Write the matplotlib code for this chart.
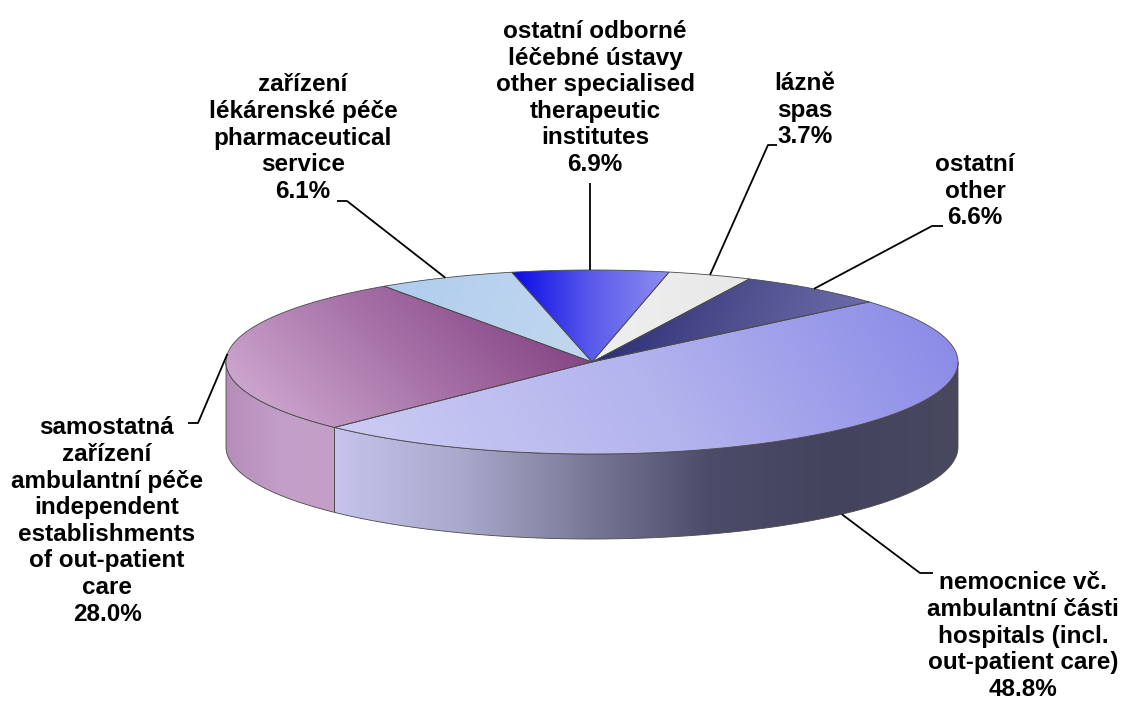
import numpy as np
import matplotlib.pyplot as plt
from matplotlib.patches import Polygon
from matplotlib.colors import LinearSegmentedColormap

plt.rcParams["font.family"] = ["Liberation Sans", "DejaVu Sans"]

# data (clockwise from the start angle)
names = [
    "nemocnice vč.\nambulantní části\nhospitals (incl.\nout-patient care)",
    "samostatná\nzařízení\nambulantní péče\nindependent\nestablishments\nof out-patient\ncare",
    "zařízení\nlékárenské péče\npharmaceutical\nservice",
    "ostatní odborné\nléčebné ústavy\nother specialised\ntherapeutic\ninstitutes",
    "lázně\nspas",
    "ostatní\nother",
]
shares = [48.8, 28.0, 6.1, 6.9, 3.7, 6.6]

# colour stops for the top faces and the gradient direction (pixel coords, y down)
top_colors = [
    ["#cbcbf3", "#b4b4ee", "#8c8ce8"],
    ["#cba4cd", "#a873a8", "#864686"],
    ["#b0cdee", "#c2d7ef"],
    ["#0a0ae6", "#5a5aec", "#8e8ef0"],
    ["#efefef", "#e8e8e8"],
    ["#2e2e78", "#50508f", "#6c6cab"],
]
top_dirs = [(1, -0.6), (1, -1), (1, 0.3), (1, 0), (1, 0), (1, 0.4)]
side_colors = [
    ["#c4c4ec", "#a9a9cc", "#7a7a98", "#4c4c6a", "#43435d", "#48485f"],
    ["#b58db9", "#c39ec8", "#c4a0c8"],
    ["#b0cdee", "#b0cdee"],
    ["#4040e0", "#4040e0"],
    ["#dddddd", "#dddddd"],
    ["#3a3a70", "#3a3a70"],
]

# layout
W, H = 1126, 701
cx, cy, rx, ry, depth = 592, 362, 366, 92, 85
start = 40.8
label_pos = [(1023, 636), (107, 521), (303, 138), (595, 98), (805, 110), (975, 191)]
elbows = [
    [(920, 573), (933, 573)],
    [(198, 423), (188, 423)],
    [(347, 201), (337, 201)],
    [(None, 183)],
    [(768, 145), (777, 145)],
    [(932, 226), (943, 226)],
]

fig = plt.figure(figsize=(W / 100, H / 100), dpi=100)
ax = fig.add_axes([0, 0, 1, 1])
ax.set_xlim(0, W)
ax.set_ylim(H, 0)
ax.axis("off")


def ell(theta_deg, dz=0.0):
    t = np.radians(theta_deg)
    return cx + rx * np.cos(t), cy - ry * np.sin(t) + dz


def gradient_poly(verts, stops, direction, z):
    verts = np.asarray(verts)
    patch = Polygon(verts, closed=True, facecolor="none", edgecolor="#4a4a4a",
                    lw=0.6, zorder=z + 0.5, joinstyle="round")
    ax.add_patch(patch)
    x0, y0 = verts.min(axis=0)
    x1, y1 = verts.max(axis=0)
    xs = np.linspace(x0, x1, 300)
    ys = np.linspace(y0, y1, 200)
    X, Y = np.meshgrid(xs, ys)
    d = np.array(direction, float)
    d /= np.hypot(*d)
    proj = verts @ d
    P = X * d[0] + Y * d[1]
    tt = np.clip((P - proj.min()) / max(proj.max() - proj.min(), 1e-9), 0, 1)
    cmap = LinearSegmentedColormap.from_list("g", stops)
    im = ax.imshow(cmap(tt), extent=(x0, x1, y1, y0), origin="upper",
                   interpolation="bilinear", zorder=z, aspect="auto")
    im.set_clip_path(patch)


# wedge angle ranges (clockwise)
bounds = start - np.concatenate([[0], np.cumsum(shares)]) / sum(shares) * 360
spans = [(bounds[i + 1], bounds[i]) for i in range(len(shares))]

# side walls (front half only)
for i, (a0, a1) in enumerate(spans):
    for k in (-360, 0, 360):
        lo, hi = max(a0, -180 + k), min(a1, 0 + k)
        if lo < hi:
            th = np.linspace(lo, hi, 120)
            tx, ty = ell(th)
            bx, by = ell(th[::-1], depth)
            verts = np.column_stack([np.r_[tx, bx], np.r_[ty, by]])
            gradient_poly(verts, side_colors[i], (1, 0), 2)

# top faces
for i, (a0, a1) in enumerate(spans):
    th = np.linspace(a1, a0, 200)
    tx, ty = ell(th)
    verts = np.column_stack([np.r_[cx, tx], np.r_[cy, ty]])
    gradient_poly(verts, top_colors[i], top_dirs[i], 4)

# labels with leader lines
for i, (a0, a1) in enumerate(spans):
    mid = (a0 + a1) / 2
    ax_, ay_ = ell(mid, depth if np.sin(np.radians(mid)) < 0 else 0)
    pts = [(ax_, ay_)] + [(ax_ if px is None else px, py) for px, py in elbows[i]]
    pts = np.array(pts, float)
    ax.plot(pts[:, 0], pts[:, 1], color="black", lw=1.3, zorder=6,
            solid_capstyle="butt")
    lx, ly = label_pos[i]
    ax.text(lx, ly, f"{names[i]}\n{shares[i]:.1f}%", ha="center", va="center",
            multialignment="center", fontsize=17.5, fontweight="bold",
            linespacing=1.2, color="black", zorder=7)

fig.savefig("out.png", dpi=100, facecolor="white")
